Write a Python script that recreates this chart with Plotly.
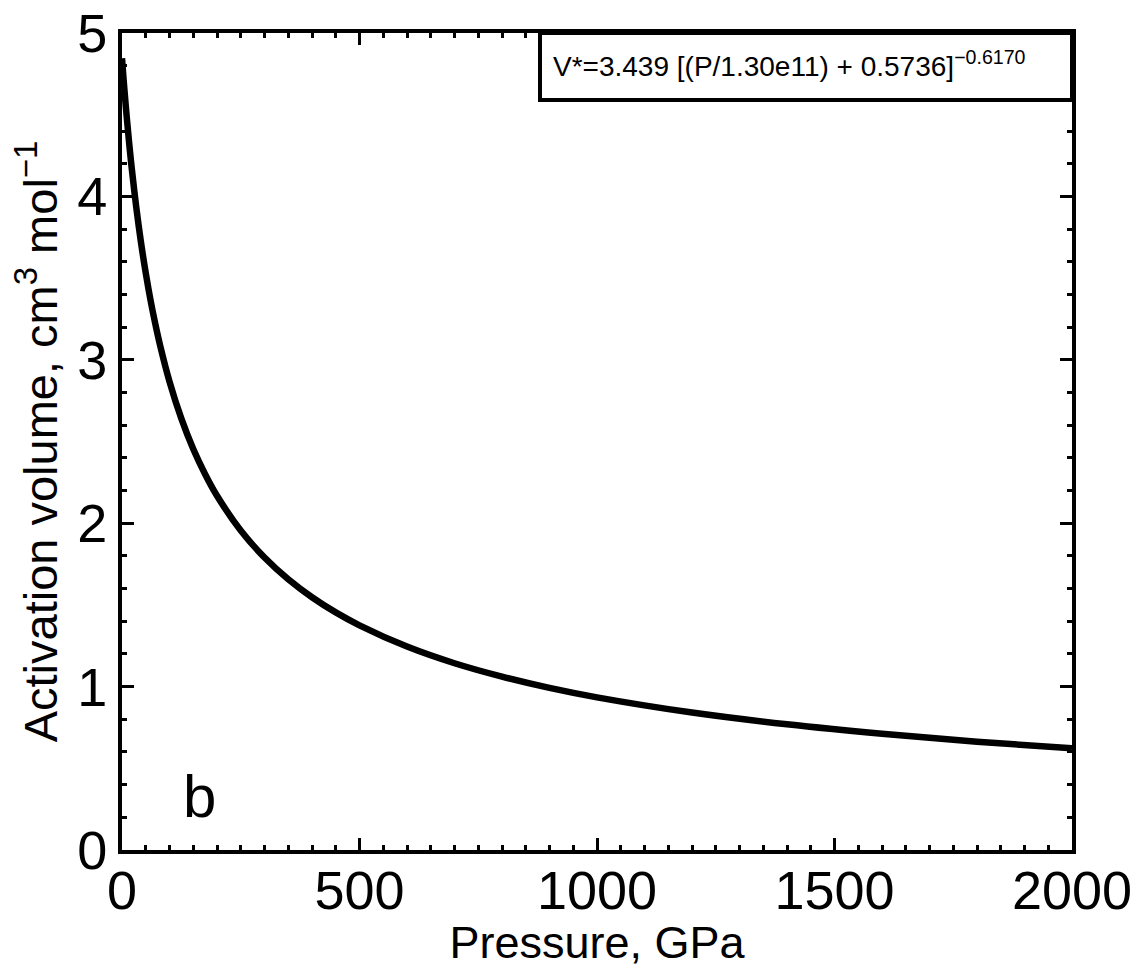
import plotly.graph_objects as go

# Values (pressure in GPa, activation volume in cm^3/mol)
pressure_gpa = [0, 2.5, 5, 10, 15, 20, 30, 40, 50, 60, 70, 80, 100, 125, 150, 175, 200,
                250, 300, 350, 400, 450, 500, 600, 700, 800, 900, 1000, 1200, 1400,
                1600, 1800, 2000]
activation_volume = [4.846, 4.748, 4.655, 4.484, 4.328, 4.185, 3.934, 3.718, 3.531, 3.366,
                     3.221, 3.091, 2.867, 2.640, 2.454, 2.300, 2.168, 1.955, 1.790, 1.657,
                     1.547, 1.454, 1.375, 1.245, 1.143, 1.061, 0.992, 0.934, 0.841, 0.769,
                     0.711, 0.663, 0.622]

x_ticks = [0, 500, 1000, 1500, 2000]
y_ticks = [0, 1, 2, 3, 4, 5]

FONT = "Liberation Sans, Arial, Helvetica, sans-serif"

fig = go.Figure()
fig.add_trace(go.Scatter(
    x=pressure_gpa, y=activation_volume, mode="lines",
    line=dict(color="black", width=6.5, shape="spline"),
    showlegend=False, hoverinfo="skip",
))

axis_common = dict(
    showline=True, linecolor="black", linewidth=4, mirror="ticks",
    ticks="inside", ticklen=12, tickwidth=3, tickcolor="black",
    showgrid=False, zeroline=False, automargin=False,
    tickfont=dict(family=FONT, size=54, color="black"),
)

fig.update_xaxes(
    range=[0, 2000], tickvals=x_ticks, ticktext=[str(v) for v in x_ticks],
    minor=dict(dtick=50, ticks="inside", ticklen=5, tickwidth=3, tickcolor="black", showgrid=False),
    ticklabelstandoff=-10,
    title=dict(text="Pressure, GPa", font=dict(family=FONT, size=45, color="black"), standoff=0),
    **axis_common,
)
fig.update_yaxes(
    range=[0, 5], tickvals=y_ticks, ticktext=[str(v) for v in y_ticks],
    minor=dict(dtick=0.2, ticks="inside", ticklen=5, tickwidth=3, tickcolor="black", showgrid=False),
    title=dict(text="Activation volume, cm<sup>3</sup> mol<sup>\u22121</sup>",
               font=dict(family=FONT, size=47, color="black"), standoff=6),
    **axis_common,
)

# Equation box
fig.add_shape(type="rect", xref="paper", yref="paper",
              x0=0.44, x1=1.0, y0=0.918, y1=1.0,
              line=dict(color="black", width=4), fillcolor="white", layer="above")
fig.add_annotation(
    xref="paper", yref="paper", x=0.452, y=0.962, xanchor="left", yanchor="middle",
    text="V*=3.439 [(P/1.30e11) + 0.5736]<sup>\u22120.6170</sup>",
    showarrow=False, font=dict(family=FONT, size=28, color="black"),
)
# Panel label
fig.add_annotation(
    xref="paper", yref="paper", x=0.062, y=0.022, xanchor="left", yanchor="bottom",
    text="b", showarrow=False, font=dict(family=FONT, size=60, color="black"),
)

fig.update_layout(
    width=1138, height=968,
    margin=dict(l=122, r=66, t=33, b=118, autoexpand=False),
    paper_bgcolor="white", plot_bgcolor="white",
    font=dict(family=FONT, color="black"),
)

fig.write_html("out.html")
